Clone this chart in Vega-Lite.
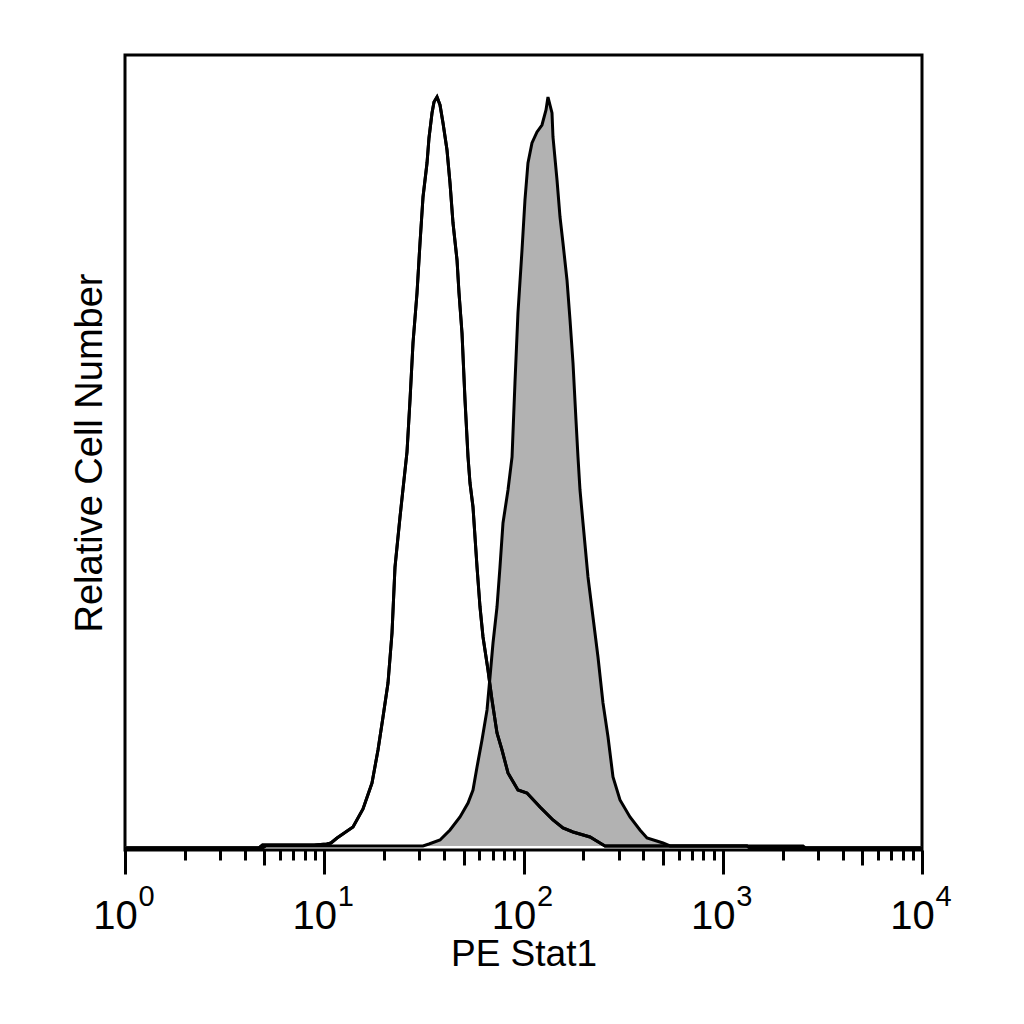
{
  "$schema": "https://vega.github.io/schema/vega-lite/v6.json",
  "autosize": "none",
  "width": 797,
  "height": 795,
  "padding": {"left": 125, "top": 55, "right": 102, "bottom": 174},
  "background": "white",
  "config": {
    "view": {"stroke": "black", "strokeWidth": 3},
    "font": "Liberation Sans",
    "axis": {"grid": false, "domain": false, "tickColor": "black", "tickWidth": 3, "labelColor": "black", "titleColor": "black", "titleFontWeight": "normal"}
  },
  "datasets": {
    "hist": [
      {"s": "open", "x": 1, "y": -2},
      {"s": "open", "x": 4.7, "y": -2},
      {"s": "open", "x": 4.9, "y": 1},
      {"s": "open", "x": 8.9, "y": 1},
      {"s": "open", "x": 10.3, "y": 2},
      {"s": "open", "x": 10.8, "y": 3},
      {"s": "open", "x": 11.59, "y": 8},
      {"s": "open", "x": 13.94, "y": 19},
      {"s": "open", "x": 15.65, "y": 37},
      {"s": "open", "x": 17.36, "y": 63},
      {"s": "open", "x": 18.61, "y": 96},
      {"s": "open", "x": 19.72, "y": 129},
      {"s": "open", "x": 20.89, "y": 163},
      {"s": "open", "x": 21.88, "y": 213},
      {"s": "open", "x": 22.65, "y": 279},
      {"s": "open", "x": 24.0, "y": 329},
      {"s": "open", "x": 26.02, "y": 394},
      {"s": "open", "x": 26.94, "y": 446},
      {"s": "open", "x": 27.89, "y": 503},
      {"s": "open", "x": 29.21, "y": 553},
      {"s": "open", "x": 30.24, "y": 603},
      {"s": "open", "x": 31.31, "y": 649},
      {"s": "open", "x": 32.79, "y": 683},
      {"s": "open", "x": 33.55, "y": 708},
      {"s": "open", "x": 34.74, "y": 733},
      {"s": "open", "x": 35.55, "y": 744},
      {"s": "open", "x": 36.81, "y": 749},
      {"s": "open", "x": 38.1, "y": 741},
      {"s": "open", "x": 39.45, "y": 723},
      {"s": "open", "x": 41.31, "y": 696},
      {"s": "open", "x": 42.77, "y": 663},
      {"s": "open", "x": 44.28, "y": 623},
      {"s": "open", "x": 46.38, "y": 586},
      {"s": "open", "x": 47.46, "y": 553},
      {"s": "open", "x": 49.13, "y": 513},
      {"s": "open", "x": 50.87, "y": 446},
      {"s": "open", "x": 52.67, "y": 389},
      {"s": "open", "x": 53.89, "y": 363},
      {"s": "open", "x": 55.79, "y": 339},
      {"s": "open", "x": 58.44, "y": 279},
      {"s": "open", "x": 60.5, "y": 239},
      {"s": "open", "x": 62.63, "y": 209},
      {"s": "open", "x": 66.34, "y": 176},
      {"s": "open", "x": 69.49, "y": 146},
      {"s": "open", "x": 73.62, "y": 113},
      {"s": "open", "x": 78.0, "y": 96},
      {"s": "open", "x": 83.6, "y": 73},
      {"s": "open", "x": 93.8, "y": 56},
      {"s": "open", "x": 104.1, "y": 53},
      {"s": "open", "x": 121.0, "y": 39},
      {"s": "open", "x": 140.6, "y": 26},
      {"s": "open", "x": 157.8, "y": 18},
      {"s": "open", "x": 177.2, "y": 14},
      {"s": "open", "x": 215.7, "y": 9},
      {"s": "open", "x": 242.1, "y": 3},
      {"s": "open", "x": 256.5, "y": 0},
      {"s": "open", "x": 1323, "y": 0},
      {"s": "open", "x": 1370, "y": -2},
      {"s": "open", "x": 10000, "y": -2},
      {"s": "stim", "x": 1, "y": -2},
      {"s": "stim", "x": 4.9, "y": -2},
      {"s": "stim", "x": 5.1, "y": 0},
      {"s": "stim", "x": 31.3, "y": 0},
      {"s": "stim", "x": 33.55, "y": 2},
      {"s": "stim", "x": 38.1, "y": 6},
      {"s": "stim", "x": 42.77, "y": 16},
      {"s": "stim", "x": 48.01, "y": 29},
      {"s": "stim", "x": 52.67, "y": 43},
      {"s": "stim", "x": 55.79, "y": 56},
      {"s": "stim", "x": 58.44, "y": 79},
      {"s": "stim", "x": 61.9, "y": 106},
      {"s": "stim", "x": 65.6, "y": 136},
      {"s": "stim", "x": 67.9, "y": 169},
      {"s": "stim", "x": 70.3, "y": 203},
      {"s": "stim", "x": 73.62, "y": 239},
      {"s": "stim", "x": 76.2, "y": 279},
      {"s": "stim", "x": 78.9, "y": 323},
      {"s": "stim", "x": 83.6, "y": 356},
      {"s": "stim", "x": 87.6, "y": 389},
      {"s": "stim", "x": 90.6, "y": 463},
      {"s": "stim", "x": 93.8, "y": 533},
      {"s": "stim", "x": 98.3, "y": 596},
      {"s": "stim", "x": 101.7, "y": 646},
      {"s": "stim", "x": 105.3, "y": 683},
      {"s": "stim", "x": 110.3, "y": 703},
      {"s": "stim", "x": 116.9, "y": 714},
      {"s": "stim", "x": 123.8, "y": 721},
      {"s": "stim", "x": 129.7, "y": 736},
      {"s": "stim", "x": 132.7, "y": 749},
      {"s": "stim", "x": 139.0, "y": 733},
      {"s": "stim", "x": 140.6, "y": 709},
      {"s": "stim", "x": 147.3, "y": 666},
      {"s": "stim", "x": 152.5, "y": 629},
      {"s": "stim", "x": 157.8, "y": 603},
      {"s": "stim", "x": 165.3, "y": 566},
      {"s": "stim", "x": 171.2, "y": 526},
      {"s": "stim", "x": 177.2, "y": 483},
      {"s": "stim", "x": 183.4, "y": 426},
      {"s": "stim", "x": 187.7, "y": 389},
      {"s": "stim", "x": 192.1, "y": 356},
      {"s": "stim", "x": 198.9, "y": 323},
      {"s": "stim", "x": 210.7, "y": 269},
      {"s": "stim", "x": 223.2, "y": 229},
      {"s": "stim", "x": 236.5, "y": 189},
      {"s": "stim", "x": 250.6, "y": 143},
      {"s": "stim", "x": 265.6, "y": 109},
      {"s": "stim", "x": 281.3, "y": 69},
      {"s": "stim", "x": 305.0, "y": 46},
      {"s": "stim", "x": 342.3, "y": 29},
      {"s": "stim", "x": 384.2, "y": 16},
      {"s": "stim", "x": 416.8, "y": 8},
      {"s": "stim", "x": 501.3, "y": 3},
      {"s": "stim", "x": 543.6, "y": 0},
      {"s": "stim", "x": 2528, "y": 0},
      {"s": "stim", "x": 2600, "y": -2},
      {"s": "stim", "x": 10000, "y": -2}
    ]
  },
  "data": {"name": "hist"},
  "encoding": {
    "y": {"field": "y", "type": "quantitative", "scale": {"domain": [-4, 791], "nice": false, "zero": false},
      "axis": {"labels": false, "ticks": false, "title": "Relative Cell Number", "titleFontSize": 38, "titlePadding": 16}}
  },
  "layer": [
    {
      "transform": [{"filter": "datum.s == 'stim'"}],
      "mark": {"type": "area", "color": "#b2b2b2", "clip": true},
      "encoding": {
        "x": {"field": "x", "type": "quantitative", "scale": {"type": "log", "domain": [1, 10000], "nice": false},
          "axis": {"orient": "bottom", "values": [1, 10, 100, 1000, 10000], "tickSize": 24, "labelFontSize": 40, "labelPadding": 22, "labelOffset": -10, "labelFlush": false, "labelOverlap": false,
            "labelExpr": "'10'",
            "title": "PE Stat1", "titleFontSize": 37, "titlePadding": 0}},
        "y2": {"datum": 0}
      }
    },
    {
      "transform": [{"filter": "datum.s == 'stim'"}],
      "mark": {"type": "line", "color": "black", "strokeWidth": 3, "clip": true},
      "encoding": {
        "x": {"field": "x", "type": "quantitative",
          "axis": {"orient": "bottom", "values": [2, 3, 4, 6, 7, 8, 9, 20, 30, 40, 60, 70, 80, 90, 200, 300, 400, 600, 700, 800, 900, 2000, 3000, 4000, 6000, 7000, 8000, 9000], "tickSize": 10, "labels": false, "title": null}}
      }
    },
    {
      "transform": [{"filter": "datum.s == 'open'"}],
      "mark": {"type": "line", "color": "black", "strokeWidth": 3, "clip": true},
      "encoding": {
        "x": {"field": "x", "type": "quantitative",
          "axis": {"orient": "bottom", "values": [5, 50, 500, 5000], "tickSize": 15, "labels": false, "title": null}}
      }
    },
    {
      "transform": [{"filter": "datum.s == 'open'"}],
      "mark": {"type": "line", "color": "black", "strokeWidth": 3, "clip": true},
      "encoding": {
        "x": {"field": "x", "type": "quantitative",
          "axis": {"orient": "bottom", "values": [1, 10, 100, 1000, 10000], "ticks": true, "tickSize": 0, "tickOpacity": 0, "labelFontSize": 29, "labelPadding": 32, "labelOffset": 21, "labelFlush": false, "labelOverlap": false,
            "labelExpr": "format(log(datum.value) / LN10, '.0f')", "title": null}}
      }
    }
  ],
  "resolve": {"axis": {"x": "independent"}}
}
